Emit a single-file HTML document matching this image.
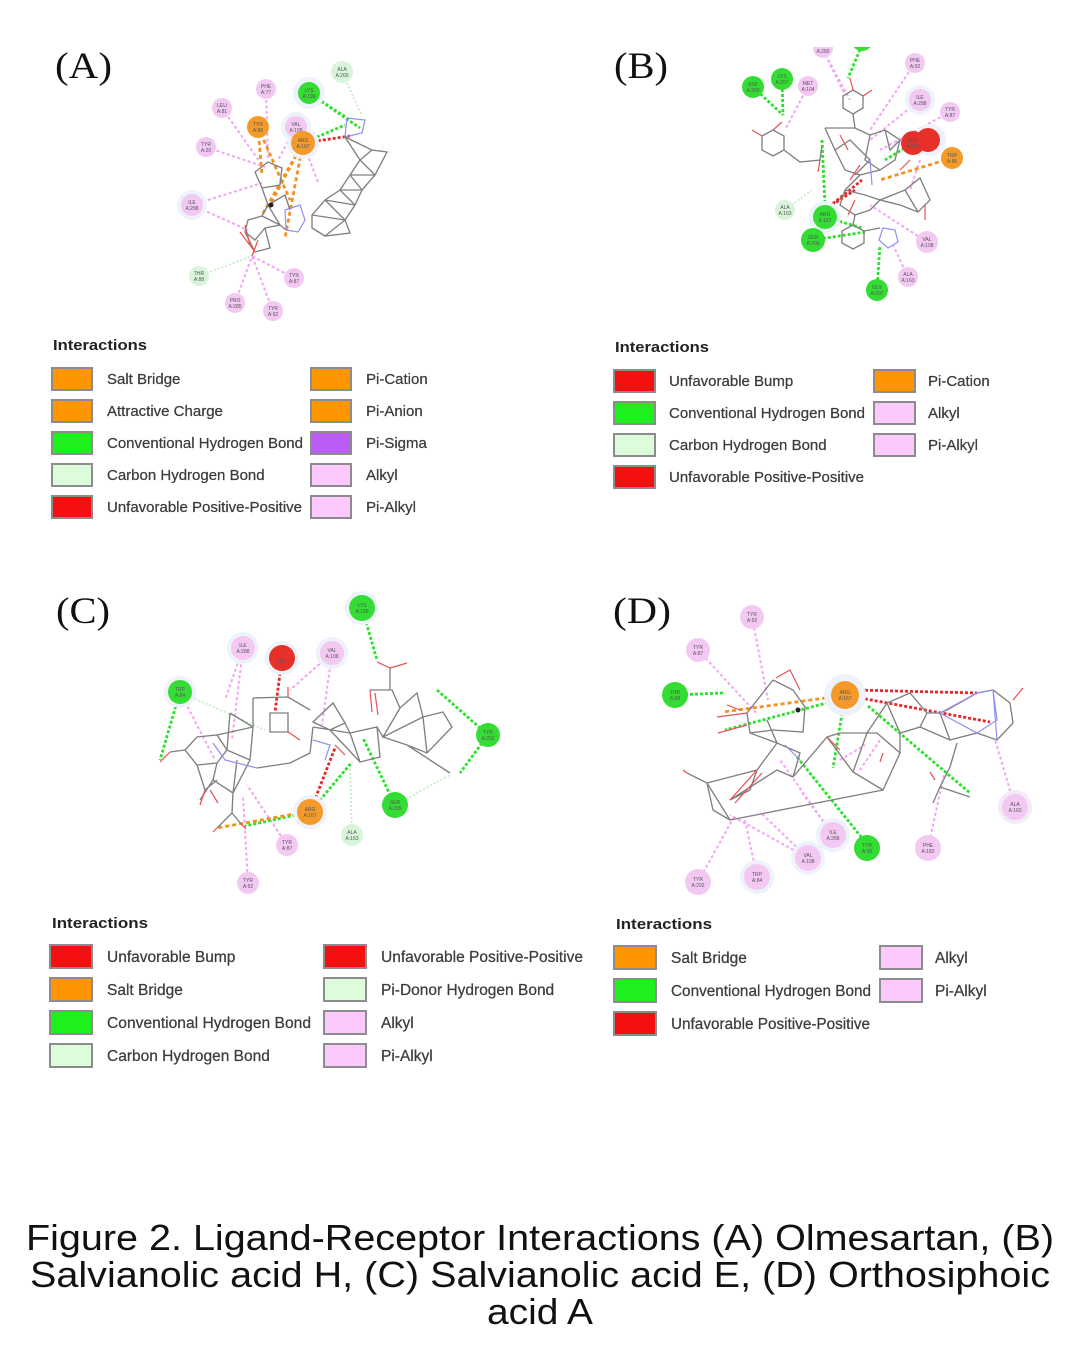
<!DOCTYPE html>
<html><head><meta charset="utf-8"><style>
html,body{margin:0;padding:0;background:#fff;}
svg{display:block;}
.lg{font-family:"Liberation Sans",sans-serif;font-size:15px;fill:#3c3c3c;stroke:#3c3c3c;stroke-width:0.25;}
.lt{font-family:"Liberation Sans",sans-serif;font-size:15px;font-weight:bold;fill:#222;}
.pl{font-family:"Liberation Serif",serif;font-size:37px;fill:#111;}
.rl{font-family:"Liberation Sans",sans-serif;font-size:5px;fill:#555;text-anchor:middle;}
.g{stroke:#808080;stroke-width:1.35;fill:none;}
.b{stroke:#9090ee;stroke-width:1.2;fill:none;}
.r{stroke:#e85050;stroke-width:1.2;fill:none;}
.pk{stroke:#f3a4f3;stroke-width:2;stroke-dasharray:3 2.5;fill:none;}
.lgn{stroke:#bdeebd;stroke-width:1.6;stroke-dasharray:2 2;fill:none;}
.gn{stroke:#2ee02e;stroke-width:2.8;stroke-dasharray:3 2;fill:none;}
.or{stroke:#f29020;stroke-width:2.8;stroke-dasharray:4 3;fill:none;}
.rd{stroke:#e62828;stroke-width:2.8;stroke-dasharray:3 2;fill:none;}
.sw{stroke:#8c8c8c;stroke-width:2;}
</style></head><body>
<svg width="1080" height="1350" viewBox="0 0 1080 1350" xmlns="http://www.w3.org/2000/svg">
<rect width="1080" height="1350" fill="#fff"/>

<!-- ================= PANEL A ================= -->
<text class="pl" x="55" y="78" textLength="57" lengthAdjust="spacingAndGlyphs">(A)</text>
<g>
<path class="pk" d="M266,89 L268,160 M222,108 L262,165 M206,147 L265,167 M192,205 L262,183 M192,205 L248,230 M296,127 L278,160 M294,278 L252,256 M235,303 L252,256 M273,311 L252,256 M303,143 L318,182"/>
<path class="lgn" d="M199,276 L252,256 M342,72 L362,116"/>
<path class="gn" d="M309,93 L347,118 M309,93 L360,128 M303,143 L345,125"/>
<path class="rd" d="M303,143 L350,136"/>
<path class="or" d="M303,143 L270,205 M303,143 L285,238 M303,143 L262,215 M258,127 L290,200 M258,127 L262,175"/>
<path class="b" d="M347,118 L365,120 L362,133 L345,137 Z M285,210 L300,205 L305,220 L298,232 L286,230 Z"/>
<path class="g" d="M345,137 L372,150 L387,152 L375,175 L362,190 L355,205 L345,220 L350,233 L325,236 L312,228 L312,215 L325,200 L340,190 L350,175 L360,160 Z M345,137 L360,160 L372,150 M360,160 L375,175 M350,175 L375,175 M340,190 L362,190 M325,200 L355,205 M312,215 L345,220 M325,236 L345,220 M340,190 L355,205 M350,175 L362,190 M325,200 L345,220 M312,228 L325,236"/>
<path class="g" d="M255,172 L268,162 L282,168 L280,185 L262,188 Z M262,188 L268,205 L285,195 L290,210 M268,205 L280,225 L265,228 L255,240 L245,232 L248,220 L262,216 L268,205 M265,228 L270,248 L255,252 L245,232 M280,225 L286,230 M262,216 L280,225"/>
<path class="r" d="M245,225 L250,245 M240,232 L255,252 M252,256 L258,240"/>
<circle cx="271" cy="205" r="2.5" fill="#222"/>
<circle cx="309" cy="93" r="16" fill="#eef2fb"/>
<circle cx="296" cy="127" r="15" fill="#eef2fb"/>
<circle cx="303" cy="143" r="16" fill="#eef2fb"/>
<circle cx="192" cy="205" r="15" fill="#eef2fb"/>
<circle cx="342" cy="72" r="11" fill="#d9f5d9"/><text class="rl" x="342" y="71">ALA</text><text class="rl" x="342" y="77">A:200</text>
<circle cx="266" cy="89" r="10" fill="#f3c9f3"/><text class="rl" x="266" y="88">PHE</text><text class="rl" x="266" y="94">A:77</text>
<circle cx="222" cy="108" r="10" fill="#f3c9f3"/><text class="rl" x="222" y="107">LEU</text><text class="rl" x="222" y="113">A:81</text>
<circle cx="309" cy="93" r="11" fill="#33dd33"/><text class="rl" x="309" y="92">LYS</text><text class="rl" x="309" y="98">A:199</text>
<circle cx="296" cy="127" r="11" fill="#f3c9f3"/><text class="rl" x="296" y="126">VAL</text><text class="rl" x="296" y="132">A:108</text>
<circle cx="258" cy="127" r="11" fill="#f39a2b"/><text class="rl" x="258" y="126">TYR</text><text class="rl" x="258" y="132">A:86</text>
<circle cx="303" cy="143" r="12" fill="#f39a2b"/><text class="rl" x="303" y="142">ARG</text><text class="rl" x="303" y="148">A:167</text>
<circle cx="206" cy="147" r="10" fill="#f3c9f3"/><text class="rl" x="206" y="146">TYR</text><text class="rl" x="206" y="152">A:20</text>
<circle cx="192" cy="205" r="11" fill="#f3c9f3"/><text class="rl" x="192" y="204">ILE</text><text class="rl" x="192" y="210">A:288</text>
<circle cx="199" cy="276" r="10" fill="#d9f5d9"/><text class="rl" x="199" y="275">THR</text><text class="rl" x="199" y="281">A:88</text>
<circle cx="294" cy="278" r="10" fill="#f3c9f3"/><text class="rl" x="294" y="277">TYR</text><text class="rl" x="294" y="283">A:87</text>
<circle cx="235" cy="303" r="10" fill="#f3c9f3"/><text class="rl" x="235" y="302">PRO</text><text class="rl" x="235" y="308">A:285</text>
<circle cx="273" cy="311" r="10" fill="#f3c9f3"/><text class="rl" x="273" y="310">TYR</text><text class="rl" x="273" y="316">A:92</text>
</g>

<!-- legend A -->
<text class="lt" x="53" y="350" textLength="94" lengthAdjust="spacingAndGlyphs">Interactions</text>
<g class="sw">
<rect x="52" y="368" width="40" height="22" fill="#ff9500"/>
<rect x="52" y="400" width="40" height="22" fill="#ff9500"/>
<rect x="52" y="432" width="40" height="22" fill="#1ef01e"/>
<rect x="52" y="464" width="40" height="22" fill="#dcfcdc"/>
<rect x="52" y="496" width="40" height="22" fill="#f41010"/>
<rect x="311" y="368" width="40" height="22" fill="#ff9500"/>
<rect x="311" y="400" width="40" height="22" fill="#ff9500"/>
<rect x="311" y="432" width="40" height="22" fill="#bb5cf5"/>
<rect x="311" y="464" width="40" height="22" fill="#fdc8fd"/>
<rect x="311" y="496" width="40" height="22" fill="#fdc8fd"/>
</g>
<text class="lg" x="107" y="384">Salt Bridge</text>
<text class="lg" x="107" y="416">Attractive Charge</text>
<text class="lg" x="107" y="448" textLength="196" lengthAdjust="spacingAndGlyphs">Conventional Hydrogen Bond</text>
<text class="lg" x="107" y="480">Carbon Hydrogen Bond</text>
<text class="lg" x="107" y="512" textLength="195" lengthAdjust="spacingAndGlyphs">Unfavorable Positive-Positive</text>
<text class="lg" x="366" y="384">Pi-Cation</text>
<text class="lg" x="366" y="416">Pi-Anion</text>
<text class="lg" x="366" y="448">Pi-Sigma</text>
<text class="lg" x="366" y="480">Alkyl</text>
<text class="lg" x="366" y="512">Pi-Alkyl</text>

<!-- ================= PANEL B ================= -->
<text class="pl" x="614" y="78" textLength="54" lengthAdjust="spacingAndGlyphs">(B)</text>
<defs><clipPath id="cb"><rect x="600" y="47" width="480" height="300"/></clipPath></defs>
<g clip-path="url(#cb)">
<path class="pk" d="M808,86 L785,130 M823,50 L850,100 M915,63 L870,130 M920,100 L870,140 M950,112 L880,150 M927,242 L870,205 M908,277 L893,245 M920,160 L910,190 M823,50 L845,95"/>
<path class="lgn" d="M785,210 L812,190"/>
<path class="gn" d="M753,87 L783,115 M782,79 L783,115 M862,45 L848,78 M822,140 L825,205 M825,217 L862,228 M813,240 L865,232 M877,290 L880,245 M913,143 L885,160"/>
<path class="or" d="M952,158 L880,180"/>
<path class="rd" d="M825,210 L862,180 M832,205 L855,190"/>
<path class="g" d="M853,90 L863,96 L863,108 L853,114 L843,108 L843,96 Z M773,130 L784,136 L784,150 L773,156 L762,150 L762,136 Z M784,150 L800,162 L820,160 L822,145 M853,114 L855,128 M853,225 L864,231 L864,243 L853,249 L842,243 L842,231 Z"/>
<path class="r" d="M853,90 L850,78 M863,96 L872,90 M762,136 L752,130 M773,130 L782,122 M820,160 L818,172"/>
<path class="g" d="M825,128 L855,128 L870,135 L885,130 L900,140 L895,160 L880,170 L860,175 L845,190 L840,205 L855,215 L870,210 L880,200 L905,190 L920,178 L930,200 L918,212 L900,205 L880,200 M825,128 L835,150 L850,140 L870,160 L855,175 M835,150 L845,170 L860,175 M870,135 L865,160 L880,170 M885,130 L890,150 L900,140 M845,190 L865,195 L880,200 M905,190 L918,212 M853,225 L855,215 M864,231 L880,228"/>
<path class="r" d="M840,135 L848,150 M860,165 L850,180 M855,200 L848,215 M900,170 L910,160 M925,205 L925,220"/>
<path class="b" d="M883,228 L895,230 L898,242 L888,248 L879,240 Z M870,160 L872,185"/>
<circle cx="823" cy="48" r="10" fill="#f3c9f3"/><text class="rl" x="823" y="53">A:280</text>
<circle cx="862" cy="40" r="11" fill="#33dd33"/>
<circle cx="753" cy="87" r="11" fill="#33dd33"/><text class="rl" x="753" y="86">ASP</text><text class="rl" x="753" y="92">A:209</text>
<circle cx="782" cy="79" r="11" fill="#33dd33"/><text class="rl" x="782" y="78">LYS</text><text class="rl" x="782" y="84">A:207</text>
<circle cx="808" cy="86" r="10" fill="#f3c9f3"/><text class="rl" x="808" y="85">MET</text><text class="rl" x="808" y="91">A:104</text>
<circle cx="915" cy="63" r="10" fill="#f3c9f3"/><text class="rl" x="915" y="62">PHE</text><text class="rl" x="915" y="68">A:92</text>
<circle cx="920" cy="100" r="15" fill="#eef2fb"/>
<circle cx="920" cy="100" r="11" fill="#f3c9f3"/><text class="rl" x="920" y="99">ILE</text><text class="rl" x="920" y="105">A:288</text>
<circle cx="950" cy="112" r="10" fill="#f3c9f3"/><text class="rl" x="950" y="111">TYR</text><text class="rl" x="950" y="117">A:87</text>
<circle cx="930" cy="140" r="16" fill="#eef2fb"/>
<circle cx="928" cy="140" r="12" fill="#e8302a"/>
<circle cx="913" cy="143" r="12" fill="#e8302a"/><text class="rl" x="913" y="142">ARG</text><text class="rl" x="913" y="148">A:167</text>
<circle cx="952" cy="158" r="11" fill="#f39a2b"/><text class="rl" x="952" y="157">TRP</text><text class="rl" x="952" y="163">A:86</text>
<circle cx="785" cy="210" r="10" fill="#d9f5d9"/><text class="rl" x="785" y="209">ALA</text><text class="rl" x="785" y="215">A:163</text>
<circle cx="825" cy="217" r="16" fill="#eef2fb"/>
<circle cx="825" cy="217" r="12" fill="#33dd33"/><text class="rl" x="825" y="216">ARG</text><text class="rl" x="825" y="222">A:167</text>
<circle cx="813" cy="240" r="12" fill="#33dd33"/><text class="rl" x="813" y="239">SER</text><text class="rl" x="813" y="245">A:209</text>
<circle cx="927" cy="242" r="11" fill="#f3c9f3"/><text class="rl" x="927" y="241">VAL</text><text class="rl" x="927" y="247">A:108</text>
<circle cx="908" cy="277" r="10" fill="#f3c9f3"/><text class="rl" x="908" y="276">ALA</text><text class="rl" x="908" y="282">A:163</text>
<circle cx="877" cy="290" r="11" fill="#33dd33"/><text class="rl" x="877" y="289">GLY</text><text class="rl" x="877" y="295">A:207</text>
</g>

<!-- legend B -->
<text class="lt" x="615" y="352" textLength="94" lengthAdjust="spacingAndGlyphs">Interactions</text>
<g class="sw">
<rect x="614" y="370" width="41" height="22" fill="#f41010"/>
<rect x="614" y="402" width="41" height="22" fill="#1ef01e"/>
<rect x="614" y="434" width="41" height="22" fill="#dcfcdc"/>
<rect x="614" y="466" width="41" height="22" fill="#f41010"/>
<rect x="874" y="370" width="41" height="22" fill="#ff9500"/>
<rect x="874" y="402" width="41" height="22" fill="#fdc8fd"/>
<rect x="874" y="434" width="41" height="22" fill="#fdc8fd"/>
</g>
<text class="lg" x="669" y="386">Unfavorable Bump</text>
<text class="lg" x="669" y="418" textLength="196" lengthAdjust="spacingAndGlyphs">Conventional Hydrogen Bond</text>
<text class="lg" x="669" y="450">Carbon Hydrogen Bond</text>
<text class="lg" x="669" y="482" textLength="195" lengthAdjust="spacingAndGlyphs">Unfavorable Positive-Positive</text>
<text class="lg" x="928" y="386">Pi-Cation</text>
<text class="lg" x="928" y="418">Alkyl</text>
<text class="lg" x="928" y="450">Pi-Alkyl</text>

<!-- ================= PANEL C ================= -->
<text class="pl" x="56" y="623" textLength="54" lengthAdjust="spacingAndGlyphs">(C)</text>
<g>
<path class="pk" d="M243,648 L232,740 M243,648 L225,700 M332,653 L290,690 M332,653 L322,725 M287,845 L247,785 M248,883 L243,795 M180,692 L215,760"/>
<path class="lgn" d="M352,835 L350,765 M395,805 L450,775 M180,692 L265,730"/>
<path class="gn" d="M362,608 L377,660 M180,692 L160,760 M488,735 L437,690 M488,735 L460,773 M395,805 L363,738 M310,812 L352,762 M310,812 L245,826"/>
<path class="or" d="M305,812 L217,828"/>
<path class="rd" d="M282,658 L275,712 M310,812 L335,748"/>
<path class="g" d="M185,750 L197,737 L217,735 L227,750 L217,763 L197,765 Z M185,750 L170,752 M230,713 L253,727 L250,760 L233,793 L213,780 L217,763 M230,713 L227,750 M253,727 L217,735 M250,760 L227,750 M233,793 L237,760 M257,768 L290,763 L310,753 L313,727 M253,698 L288,697 L310,710 M270,713 L288,713 L288,732 L270,732 Z M253,698 L253,727 M313,722 L333,703 L345,723 L330,730 Z M350,733 L377,727 L380,757 L360,762 Z M345,723 L350,733 M330,730 L360,762 M313,727 L350,733 M370,690 L392,690 L400,708 L417,693 L423,717 L383,737 L407,745 L427,753 L452,727 L443,712 L423,717 M407,745 L450,773 M427,753 L423,717 M400,708 L383,737 M390,668 L390,690 M377,727 L383,737 M232,813 L217,828 M232,813 L242,825 M232,813 L233,793 M197,765 L205,790 L217,780 M213,780 L200,800"/>
<path class="r" d="M170,752 L160,762 M288,697 L288,687 M390,668 L377,662 M390,668 L407,663 M370,690 L372,712 M375,693 L378,715 M217,828 L213,832 M242,825 L246,829 M205,790 L200,805 M210,790 L218,803 M335,745 L345,755 M288,732 L300,740"/>
<path class="b" d="M213,743 L225,760 L257,768 M313,740 L330,745 L325,760"/>
<circle cx="362" cy="608" r="17" fill="#eef2fb"/>
<circle cx="362" cy="608" r="13" fill="#33dd33"/><text class="rl" x="362" y="607">LYS</text><text class="rl" x="362" y="613">A:199</text>
<circle cx="243" cy="648" r="16" fill="#eef2fb"/>
<circle cx="243" cy="648" r="12" fill="#f3c9f3"/><text class="rl" x="243" y="647">ILE</text><text class="rl" x="243" y="653">A:288</text>
<circle cx="282" cy="658" r="17" fill="#eef2fb"/>
<circle cx="282" cy="658" r="13" fill="#e8302a"/><text class="rl" x="282" y="657">I</text><text class="rl" x="282" y="663">O11</text>
<circle cx="332" cy="653" r="16" fill="#eef2fb"/>
<circle cx="332" cy="653" r="12" fill="#f3c9f3"/><text class="rl" x="332" y="652">VAL</text><text class="rl" x="332" y="658">A:108</text>
<circle cx="180" cy="692" r="16" fill="#eef2fb"/>
<circle cx="180" cy="692" r="12" fill="#33dd33"/><text class="rl" x="180" y="691">TRP</text><text class="rl" x="180" y="697">A:84</text>
<circle cx="488" cy="735" r="12" fill="#33dd33"/><text class="rl" x="488" y="734">TYR</text><text class="rl" x="488" y="740">A:292</text>
<circle cx="310" cy="812" r="17" fill="#eef2fb"/>
<circle cx="310" cy="812" r="13" fill="#f39a2b"/><text class="rl" x="310" y="811">ARG</text><text class="rl" x="310" y="817">A:167</text>
<circle cx="395" cy="805" r="13" fill="#33dd33"/><text class="rl" x="395" y="804">SER</text><text class="rl" x="395" y="810">A:209</text>
<circle cx="352" cy="835" r="11" fill="#d9f5d9"/><text class="rl" x="352" y="834">ALA</text><text class="rl" x="352" y="840">A:163</text>
<circle cx="287" cy="845" r="11" fill="#f3c9f3"/><text class="rl" x="287" y="844">TYR</text><text class="rl" x="287" y="850">A:87</text>
<circle cx="248" cy="883" r="11" fill="#f3c9f3"/><text class="rl" x="248" y="882">TYR</text><text class="rl" x="248" y="888">A:92</text>
</g>

<!-- legend C -->
<text class="lt" x="52" y="928" textLength="96" lengthAdjust="spacingAndGlyphs">Interactions</text>
<g class="sw">
<rect x="50" y="945" width="42" height="23" fill="#f41010"/>
<rect x="50" y="978" width="42" height="23" fill="#ff9500"/>
<rect x="50" y="1011" width="42" height="23" fill="#1ef01e"/>
<rect x="50" y="1044" width="42" height="23" fill="#dcfcdc"/>
<rect x="324" y="945" width="42" height="23" fill="#f41010"/>
<rect x="324" y="978" width="42" height="23" fill="#dcfcdc"/>
<rect x="324" y="1011" width="42" height="23" fill="#fdc8fd"/>
<rect x="324" y="1044" width="42" height="23" fill="#fdc8fd"/>
</g>
<text class="lg" x="107" y="962" style="font-size:15.5px">Unfavorable Bump</text>
<text class="lg" x="107" y="995" style="font-size:15.5px">Salt Bridge</text>
<text class="lg" x="107" y="1028" style="font-size:15.5px" textLength="204" lengthAdjust="spacingAndGlyphs">Conventional Hydrogen Bond</text>
<text class="lg" x="107" y="1061" style="font-size:15.5px">Carbon Hydrogen Bond</text>
<text class="lg" x="381" y="962" style="font-size:15.5px" textLength="202" lengthAdjust="spacingAndGlyphs">Unfavorable Positive-Positive</text>
<text class="lg" x="381" y="995" style="font-size:15.5px">Pi-Donor Hydrogen Bond</text>
<text class="lg" x="381" y="1028" style="font-size:15.5px">Alkyl</text>
<text class="lg" x="381" y="1061" style="font-size:15.5px">Pi-Alkyl</text>

<!-- ================= PANEL D ================= -->
<text class="pl" x="613" y="623" textLength="58" lengthAdjust="spacingAndGlyphs">(D)</text>
<g>
<path class="pk" d="M752,617 L768,700 M698,650 L758,715 M833,835 L780,760 M808,858 L730,815 M757,877 L745,820 M698,882 L735,815 M928,848 L945,770 M1015,807 L995,740 M860,770 L880,740 M833,835 L800,790 M808,858 L760,812 M840,760 L865,745"/>
<path class="gn" d="M675,695 L723,693 M838,700 L725,730 M843,708 L833,768 M868,706 L970,793 M797,757 L862,838"/>
<path class="or" d="M840,696 L723,712"/>
<path class="rd" d="M855,690 L977,693 M855,697 L990,722"/>
<path class="g" d="M773,680 L793,690 L800,700 L805,707 L803,732 L773,730 L750,733 L747,713 L773,680 M767,720 L777,743 L800,753 L793,777 M750,733 L777,743 M730,820 L883,790 M687,773 L707,783 L730,820 L713,810 L707,783 M707,783 L757,770 L777,743 M730,800 L777,770 L793,777 M793,777 L827,737 L840,733 L867,733 L877,733 L900,753 L883,790 L853,772 L827,737 M853,772 L867,733 M887,703 L910,693 L927,713 L920,727 L900,733 L887,703 M900,733 L900,753 M927,713 L940,713 L947,710 L977,693 L993,690 L1010,703 L1013,723 L997,740 L977,733 L950,740 L940,713 M957,743 L950,767 L940,787 L970,797 M940,787 L933,803 M920,727 L950,740 M867,733 L887,703 M757,770 L750,790 L730,800"/>
<path class="r" d="M687,773 L683,770 M727,705 L740,710 M717,717 L747,713 M718,733 L747,725 M757,770 L730,800 M762,773 L735,803 M827,737 L840,750 M883,753 L880,762 M930,772 L935,780 M1013,700 L1023,688 M776,678 L790,670 L800,690"/>
<path class="b" d="M940,713 L977,693 L993,690 L997,720 L977,733 Z M993,690 L997,740 M785,745 L800,760"/>
<circle cx="798" cy="710" r="2.5" fill="#222"/>
<circle cx="752" cy="617" r="12" fill="#f3c9f3"/><text class="rl" x="752" y="616">TYR</text><text class="rl" x="752" y="622">A:92</text>
<circle cx="698" cy="650" r="12" fill="#f3c9f3"/><text class="rl" x="698" y="649">TYR</text><text class="rl" x="698" y="655">A:87</text>
<circle cx="675" cy="695" r="13" fill="#33dd33"/><text class="rl" x="675" y="694">THR</text><text class="rl" x="675" y="700">A:88</text>
<circle cx="845" cy="695" r="21" fill="#eef2fb"/>
<circle cx="845" cy="695" r="14" fill="#f39a2b"/><text class="rl" x="845" y="694">ARG</text><text class="rl" x="845" y="700">A:167</text>
<circle cx="1015" cy="807" r="17" fill="#f5eaf7"/>
<circle cx="1015" cy="807" r="13" fill="#f3c9f3"/><text class="rl" x="1015" y="806">ALA</text><text class="rl" x="1015" y="812">A:163</text>
<circle cx="928" cy="848" r="13" fill="#f3c9f3"/><text class="rl" x="928" y="847">PHE</text><text class="rl" x="928" y="853">A:182</text>
<circle cx="833" cy="835" r="17" fill="#eef2fb"/>
<circle cx="833" cy="835" r="13" fill="#f3c9f3"/><text class="rl" x="833" y="834">ILE</text><text class="rl" x="833" y="840">A:288</text>
<circle cx="867" cy="848" r="13" fill="#33dd33"/><text class="rl" x="867" y="847">TYR</text><text class="rl" x="867" y="853">A:35</text>
<circle cx="808" cy="858" r="17" fill="#eef2fb"/>
<circle cx="808" cy="858" r="13" fill="#f3c9f3"/><text class="rl" x="808" y="857">VAL</text><text class="rl" x="808" y="863">A:108</text>
<circle cx="757" cy="877" r="17" fill="#eef2fb"/>
<circle cx="757" cy="877" r="13" fill="#f3c9f3"/><text class="rl" x="757" y="876">TRP</text><text class="rl" x="757" y="882">A:84</text>
<circle cx="698" cy="882" r="13" fill="#f3c9f3"/><text class="rl" x="698" y="881">TYR</text><text class="rl" x="698" y="887">A:292</text>
</g>

<!-- legend D -->
<text class="lt" x="616" y="929" textLength="96" lengthAdjust="spacingAndGlyphs">Interactions</text>
<g class="sw">
<rect x="614" y="946" width="42" height="23" fill="#ff9500"/>
<rect x="614" y="979" width="42" height="23" fill="#1ef01e"/>
<rect x="614" y="1012" width="42" height="23" fill="#f41010"/>
<rect x="880" y="946" width="42" height="23" fill="#fdc8fd"/>
<rect x="880" y="979" width="42" height="23" fill="#fdc8fd"/>
</g>
<text class="lg" x="671" y="963" style="font-size:15.5px">Salt Bridge</text>
<text class="lg" x="671" y="996" style="font-size:15.5px" textLength="200" lengthAdjust="spacingAndGlyphs">Conventional Hydrogen Bond</text>
<text class="lg" x="671" y="1029" style="font-size:15.5px" textLength="199" lengthAdjust="spacingAndGlyphs">Unfavorable Positive-Positive</text>
<text class="lg" x="935" y="963" style="font-size:15.5px">Alkyl</text>
<text class="lg" x="935" y="996" style="font-size:15.5px">Pi-Alkyl</text>

<!-- caption -->
<g font-family="'Liberation Sans', sans-serif" font-size="36" fill="#111" text-anchor="middle">
<text x="540" y="1250" textLength="1028" lengthAdjust="spacingAndGlyphs">Figure 2. Ligand-Receptor Interactions (A) Olmesartan, (B)</text>
<text x="540" y="1287" textLength="1020" lengthAdjust="spacingAndGlyphs">Salvianolic acid H, (C) Salvianolic acid E, (D) Orthosiphoic</text>
<text x="540" y="1324" textLength="106" lengthAdjust="spacingAndGlyphs">acid A</text>
</g>
</svg>
</body></html>
